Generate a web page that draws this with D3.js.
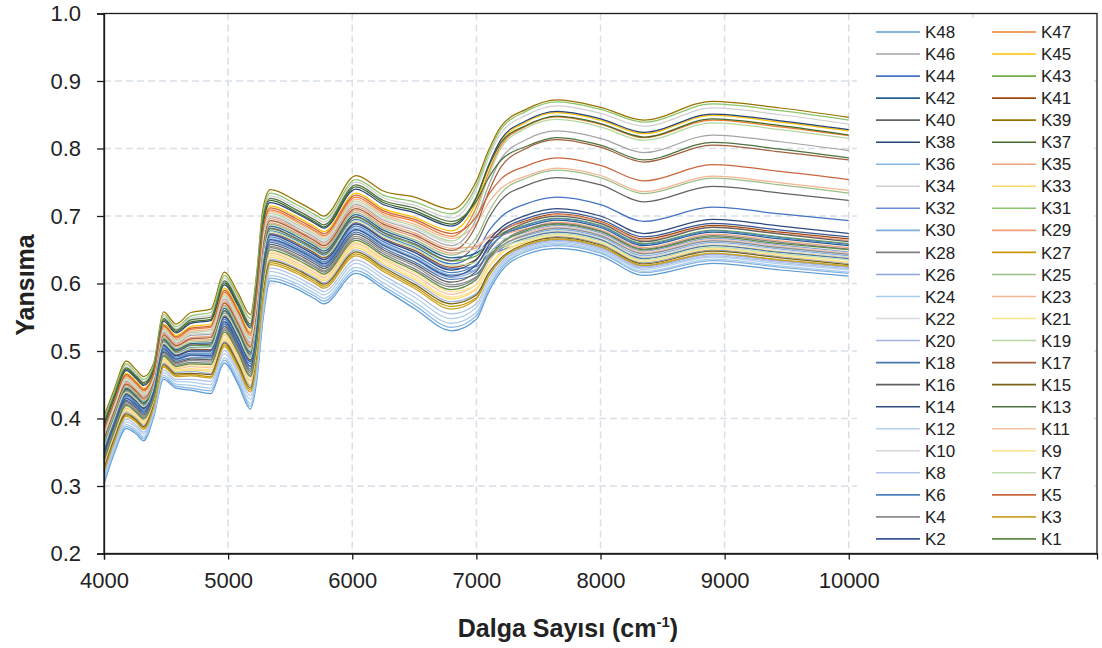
<!DOCTYPE html>
<html>
<head>
<meta charset="utf-8">
<script src="https://cdn.jsdelivr.net/npm/d3@7"></script>
<style>
  body { margin: 0; background: #fff; }
  svg text { font-family: Arial, 'Liberation Sans', sans-serif; fill: #222; }
</style>
</head>
<body>
<svg id="chart" width="1102" height="648"></svg>
<script>
const wavenumbers = [4000, 4080, 4180, 4260, 4320, 4400, 4480, 4580, 4700, 4860, 4970, 5080, 5180, 5230, 5280, 5340,
  5550, 5700, 5770, 6030, 6250, 6500, 6800, 7000, 7100, 7200, 7400, 7650, 8000, 8350, 8900, 9450, 10000];

// reflectance (Yansıma) per sample
const K48 = [.303,.347,.385,.377,.367,.402,.458,.445,.442,.437,.482,.451,.414,.455,.545,.604,.592,.577,.570,.615,.592,.563,.530,.547,.588,.618,.643,.652,.641,.612,.630,.620,.611];
const K47 = [.381,.421,.463,.451,.441,.464,.536,.519,.532,.535,.587,.556,.523,.580,.674,.709,.693,.678,.671,.728,.705,.692,.670,.713,.765,.805,.833,.847,.836,.816,.842,.832,.819];
const K46 = [.373,.414,.455,.444,.434,.458,.528,.512,.523,.525,.577,.546,.512,.567,.661,.699,.683,.668,.661,.717,.694,.679,.656,.696,.746,.785,.813,.826,.815,.794,.820,.810,.797];
const K45 = [.385,.425,.467,.455,.445,.468,.540,.523,.536,.540,.593,.562,.529,.586,.680,.715,.699,.684,.677,.734,.711,.698,.678,.721,.772,.811,.839,.853,.842,.822,.849,.839,.826];
const K44 = [.358,.399,.440,.429,.419,.446,.513,.497,.505,.506,.556,.525,.491,.543,.636,.678,.664,.649,.642,.695,.672,.654,.629,.647,.678,.699,.718,.728,.717,.692,.713,.703,.693];
const K43 = [.360,.401,.442,.431,.421,.448,.515,.499,.508,.508,.559,.528,.494,.546,.639,.681,.666,.651,.644,.698,.675,.657,.633,.641,.662,.674,.687,.697,.686,.659,.679,.669,.659];
const K42 = [.363,.404,.445,.434,.424,.450,.518,.502,.511,.512,.563,.532,.498,.551,.644,.685,.670,.655,.648,.702,.679,.662,.638,.645,.663,.672,.684,.694,.683,.656,.676,.666,.656];
const K41 = [.355,.396,.437,.426,.416,.444,.510,.494,.502,.502,.552,.521,.487,.538,.631,.674,.660,.645,.638,.690,.667,.649,.624,.636,.661,.677,.693,.703,.692,.666,.686,.676,.666];
const K40 = [.361,.402,.443,.432,.422,.448,.516,.500,.509,.510,.560,.529,.495,.548,.641,.682,.667,.652,.645,.699,.676,.659,.634,.660,.697,.724,.745,.757,.746,.721,.744,.734,.723];
const K39 = [.403,.442,.485,.472,.462,.482,.558,.540,.557,.562,.617,.586,.554,.615,.710,.739,.722,.707,.700,.760,.737,.728,.710,.752,.798,.833,.858,.872,.861,.842,.870,.860,.846];
const K38 = [.389,.429,.471,.459,.449,.471,.544,.527,.541,.545,.598,.567,.534,.593,.687,.720,.704,.689,.682,.740,.717,.705,.685,.727,.776,.814,.841,.855,.844,.824,.851,.841,.828];
const K37 = [.391,.431,.473,.461,.451,.472,.546,.529,.543,.547,.601,.570,.537,.596,.690,.723,.706,.691,.684,.743,.720,.708,.688,.728,.774,.809,.834,.848,.837,.817,.844,.834,.820];
const K36 = [.306,.350,.388,.380,.370,.404,.461,.448,.445,.441,.486,.455,.418,.460,.550,.608,.596,.581,.574,.619,.596,.568,.535,.552,.593,.622,.647,.656,.645,.616,.634,.624,.615];
const K35 = [.371,.412,.453,.442,.432,.456,.526,.510,.520,.522,.574,.543,.509,.564,.657,.696,.680,.665,.658,.714,.691,.675,.652,.655,.668,.672,.681,.691,.680,.653,.673,.663,.653];
const K34 = [.396,.435,.478,.465,.455,.476,.551,.533,.549,.553,.608,.577,.544,.604,.698,.730,.713,.698,.691,.750,.727,.716,.697,.739,.787,.823,.849,.863,.852,.833,.860,.850,.836];
const K33 = [.329,.372,.411,.402,.392,.423,.484,.470,.472,.470,.517,.486,.450,.497,.588,.639,.626,.611,.604,.653,.630,.606,.577,.591,.624,.647,.668,.677,.666,.638,.657,.647,.638];
const K32 = [.354,.395,.436,.425,.415,.443,.509,.493,.501,.501,.551,.520,.485,.537,.629,.673,.658,.643,.636,.689,.666,.647,.622,.625,.641,.649,.661,.670,.659,.631,.650,.640,.630];
const K31 = [.399,.438,.481,.468,.458,.479,.554,.536,.552,.557,.612,.581,.548,.609,.703,.734,.717,.702,.695,.754,.731,.721,.703,.745,.793,.829,.855,.869,.858,.839,.866,.856,.842];
const K30 = [.349,.391,.431,.421,.411,.439,.504,.489,.495,.495,.544,.513,.478,.529,.621,.666,.652,.637,.630,.682,.659,.639,.613,.621,.643,.656,.671,.680,.669,.641,.661,.651,.641];
const K29 = [.367,.408,.449,.438,.428,.453,.522,.506,.516,.517,.568,.537,.504,.557,.651,.690,.675,.660,.653,.708,.685,.669,.645,.653,.670,.680,.691,.702,.691,.664,.684,.674,.664];
const K28 = [.339,.381,.421,.411,.401,.431,.494,.479,.483,.482,.531,.500,.464,.513,.604,.653,.639,.624,.617,.667,.644,.622,.595,.609,.640,.661,.680,.689,.678,.651,.671,.661,.651];
const K27 = [.323,.366,.405,.396,.386,.418,.478,.464,.465,.462,.509,.478,.442,.487,.578,.631,.618,.603,.596,.644,.621,.596,.566,.579,.612,.635,.656,.665,.654,.626,.644,.634,.625];
const K26 = [.347,.389,.429,.419,.409,.437,.502,.487,.493,.492,.541,.510,.476,.525,.618,.663,.649,.634,.627,.679,.656,.636,.609,.620,.644,.661,.676,.686,.675,.648,.667,.657,.647];
const K25 = [.365,.406,.447,.436,.426,.452,.520,.504,.513,.515,.566,.535,.501,.554,.647,.688,.673,.658,.651,.705,.682,.665,.642,.668,.706,.734,.756,.768,.757,.733,.756,.746,.734];
const K24 = [.309,.353,.391,.383,.373,.407,.464,.451,.449,.445,.490,.459,.422,.465,.555,.612,.600,.585,.578,.624,.601,.573,.541,.557,.596,.625,.649,.658,.647,.618,.636,.626,.617];
const K23 = [.379,.419,.461,.449,.439,.463,.534,.517,.529,.532,.585,.554,.520,.577,.670,.707,.691,.676,.669,.725,.702,.688,.667,.689,.720,.741,.759,.771,.760,.736,.759,.749,.738];
const K22 = [.369,.410,.451,.440,.430,.455,.524,.508,.518,.520,.571,.540,.506,.561,.654,.693,.678,.663,.656,.711,.688,.672,.649,.649,.658,.661,.669,.678,.667,.639,.659,.649,.639];
const K21 = [.331,.374,.413,.404,.394,.424,.486,.472,.474,.472,.520,.489,.453,.500,.591,.642,.628,.613,.606,.656,.633,.609,.580,.593,.623,.644,.663,.672,.661,.633,.652,.642,.632];
const K20 = [.327,.370,.409,.400,.390,.421,.482,.468,.470,.467,.514,.483,.448,.493,.585,.636,.623,.608,.601,.650,.627,.603,.573,.585,.615,.636,.655,.664,.653,.625,.643,.633,.624];
const K19 = [.377,.417,.459,.447,.437,.461,.532,.515,.527,.530,.582,.551,.518,.573,.667,.704,.688,.673,.666,.722,.699,.685,.663,.706,.760,.801,.830,.843,.832,.812,.838,.828,.815];
const K18 = [.345,.387,.427,.417,.407,.436,.500,.485,.490,.490,.539,.508,.473,.522,.614,.661,.647,.632,.625,.676,.653,.632,.606,.614,.637,.652,.667,.676,.665,.637,.656,.646,.637];
const K17 = [.369,.410,.451,.440,.430,.455,.524,.508,.518,.520,.571,.540,.506,.561,.654,.693,.678,.663,.656,.711,.688,.672,.649,.687,.736,.773,.800,.813,.802,.780,.805,.795,.783];
const K16 = [.343,.385,.425,.415,.405,.434,.498,.483,.488,.487,.536,.505,.470,.519,.611,.658,.644,.629,.622,.673,.650,.629,.602,.618,.649,.671,.690,.700,.689,.662,.683,.673,.662];
const K15 = [.325,.368,.407,.398,.388,.420,.480,.466,.467,.465,.512,.481,.445,.490,.581,.634,.621,.606,.599,.647,.624,.599,.570,.583,.616,.638,.659,.668,.657,.629,.648,.638,.628];
const K14 = [.353,.395,.435,.425,.415,.442,.508,.493,.500,.500,.550,.519,.484,.535,.628,.672,.657,.642,.635,.688,.665,.646,.620,.635,.664,.683,.701,.711,.700,.674,.695,.685,.674];
const K13 = [.393,.433,.475,.463,.453,.474,.548,.531,.546,.550,.604,.573,.540,.599,.694,.726,.709,.694,.687,.746,.723,.712,.692,.722,.757,.783,.803,.816,.805,.783,.809,.799,.786];
const K12 = [.313,.357,.395,.387,.377,.410,.468,.455,.454,.450,.496,.465,.428,.471,.562,.618,.605,.590,.583,.630,.607,.580,.548,.564,.601,.628,.651,.660,.649,.621,.639,.629,.620];
const K11 = [.333,.376,.415,.406,.396,.426,.488,.474,.477,.475,.523,.492,.456,.503,.595,.645,.631,.616,.609,.659,.636,.613,.584,.599,.632,.654,.674,.684,.673,.646,.665,.655,.645];
const K10 = [.375,.415,.457,.445,.435,.460,.530,.513,.525,.527,.579,.548,.515,.570,.664,.701,.686,.671,.664,.719,.696,.682,.660,.659,.666,.667,.673,.683,.672,.644,.664,.654,.644];
const K9  = [.335,.377,.417,.407,.397,.428,.490,.475,.479,.477,.525,.494,.459,.506,.598,.647,.634,.619,.612,.661,.638,.616,.588,.598,.626,.644,.661,.671,.660,.632,.651,.641,.631];
const K8  = [.317,.360,.399,.390,.380,.413,.472,.458,.458,.455,.501,.470,.434,.477,.568,.623,.610,.595,.588,.635,.612,.586,.555,.570,.606,.631,.653,.662,.651,.623,.641,.631,.622];
const K7  = [.357,.398,.439,.428,.418,.445,.512,.496,.504,.505,.555,.524,.490,.541,.634,.677,.662,.647,.640,.693,.670,.652,.627,.631,.646,.654,.665,.674,.663,.635,.654,.644,.635];
const K6  = [.351,.393,.433,.423,.413,.440,.506,.491,.497,.497,.547,.516,.481,.532,.624,.669,.654,.639,.632,.685,.662,.642,.616,.628,.653,.670,.686,.696,.685,.658,.678,.668,.658];
const K5  = [.383,.423,.465,.453,.443,.466,.538,.521,.534,.537,.590,.559,.526,.583,.677,.712,.696,.681,.674,.731,.708,.695,.674,.699,.732,.755,.774,.786,.775,.752,.776,.766,.754];
const K4  = [.341,.383,.423,.413,.403,.432,.496,.481,.486,.485,.533,.502,.467,.516,.608,.655,.641,.626,.619,.670,.647,.626,.598,.610,.637,.655,.672,.682,.671,.644,.663,.653,.643];
const K3  = [.321,.364,.403,.394,.384,.416,.476,.462,.463,.460,.506,.475,.439,.484,.575,.628,.615,.600,.593,.641,.618,.593,.562,.577,.611,.635,.657,.666,.655,.627,.645,.635,.626];
const K2  = [.348,.390,.430,.420,.410,.438,.503,.488,.494,.493,.543,.512,.477,.527,.619,.665,.651,.636,.629,.680,.657,.637,.611,.627,.657,.678,.696,.706,.695,.669,.689,.679,.669];
const K1  = [.337,.379,.419,.409,.399,.429,.492,.477,.481,.480,.528,.497,.462,.509,.601,.650,.636,.621,.614,.664,.641,.619,.591,.606,.637,.659,.678,.688,.677,.650,.669,.659,.650];

// series in plotting order (first drawn at the bottom)
const seriesNames = ['K48','K47','K46','K45','K44','K43','K42','K41','K40','K39','K38','K37',
  'K36','K35','K34','K33','K32','K31','K30','K29','K28','K27','K26','K25',
  'K24','K23','K22','K21','K20','K19','K18','K17','K16','K15','K14','K13',
  'K12','K11','K10','K9','K8','K7','K6','K5','K4','K3','K2','K1'];
const seriesValues = [K48,K47,K46,K45,K44,K43,K42,K41,K40,K39,K38,K37,
  K36,K35,K34,K33,K32,K31,K30,K29,K28,K27,K26,K25,
  K24,K23,K22,K21,K20,K19,K18,K17,K16,K15,K14,K13,
  K12,K11,K10,K9,K8,K7,K6,K5,K4,K3,K2,K1];
const seriesColors = ['#5B9BD5','#ED7D31','#A5A5A5','#FFC000','#4472C4','#70AD47',
  '#255E91','#9E480E','#636363','#997300','#264478','#43682B',
  '#86B4E2','#F3A47A','#CFCFCF','#FFD966','#6C8ED6','#8CC46C',
  '#7EAEE0','#EFA07A','#7F7F7F','#C79A00','#8AA6D8','#9BBF86',
  '#A8CBEB','#F6B592','#DADADA','#FFE38C','#9FB4E4','#B4D7A0',
  '#4A78AE','#A0603A','#606060','#7A6415','#2E4A80','#4F7140',
  '#B0CFEC','#F7C1A2','#D5D5D5','#FFE48F','#B0C2EA','#BFDDAE',
  '#4F82BE','#C9663C','#8C8C8C','#C9A227','#3A5896','#5F8A44'];

const xTicks = [4000, 5000, 6000, 7000, 8000, 9000, 10000];
const xGrid = [5000, 6000, 7000, 8000, 9000, 10000, 11000];
const yTicks = [0.2, 0.3, 0.4, 0.5, 0.6, 0.7, 0.8, 0.9, 1.0];

seriesValues.forEach((s, i) => {
  if (s.length !== wavenumbers.length) throw new Error(seriesNames[i] + ' has ' + s.length + ' values');
});

const svg = d3.select('#chart');
const plot = { left: 104, right: 1097, top: 13.5, bottom: 553.5 };

const x = d3.scaleLinear().domain([4000, 12000]).range([plot.left, plot.right]);
const y = d3.scaleLinear().domain([0.2, 1.0]).range([plot.bottom, plot.top]);

// grid
const grid = svg.append('g')
  .attr('stroke', '#D9DEE7')
  .attr('stroke-width', 1.5)
  .attr('stroke-dasharray', '7,4');
grid.selectAll('.hgrid')
  .data(yTicks.slice(1, -1))
  .join('line')
  .attr('x1', plot.left).attr('x2', plot.right)
  .attr('y1', (d) => y(d)).attr('y2', (d) => y(d));
grid.selectAll('.vgrid')
  .data(xGrid)
  .join('line')
  .attr('x1', (d) => x(d)).attr('x2', (d) => x(d))
  .attr('y1', plot.top).attr('y2', plot.bottom);

// spectra
const line = d3.line()
  .x((d, i) => x(wavenumbers[i]))
  .y((d) => y(d))
  .curve(d3.curveMonotoneX);

svg.append('g')
  .attr('fill', 'none')
  .attr('stroke-width', 1.25)
  .selectAll('path')
  .data(seriesValues)
  .join('path')
  .attr('stroke', (d, i) => seriesColors[i])
  .attr('d', line);

// legend, sitting inside the plot area
const legend = svg.append('g');
legend.append('rect')
  .attr('x', 857).attr('y', 18)
  .attr('width', 233).attr('height', 532)
  .attr('fill', '#fff');

const rowStep = 22.04;
const entries = legend.selectAll('.entry')
  .data(seriesNames)
  .join('g')
  .attr('class', 'entry')
  .attr('transform', (d, i) => {
    const col = i % 2;
    const row = Math.floor(i / 2);
    return `translate(${col ? 992 : 876},${32 + row * rowStep})`;
  });
entries.append('line')
  .attr('x1', 0).attr('x2', 44)
  .attr('stroke', (d, i) => seriesColors[i])
  .attr('stroke-width', 1.6);
entries.append('text')
  .attr('x', 49)
  .attr('dy', '0.36em')
  .attr('font-size', 17)
  .attr('fill', '#333')
  .text((d) => d);

// frame
svg.append('rect')
  .attr('x', plot.left).attr('y', plot.top)
  .attr('width', plot.right - plot.left)
  .attr('height', plot.bottom - plot.top)
  .attr('fill', 'none')
  .attr('stroke', '#1a1a1a')
  .attr('stroke-width', 1.3);

// axes
const yAxis = svg.append('g')
  .attr('transform', `translate(${plot.left},0)`)
  .call(d3.axisLeft(y).tickValues(yTicks).tickFormat(d3.format('.1f')).tickSize(7).tickPadding(16));
const xAxis = svg.append('g')
  .attr('transform', `translate(0,${plot.bottom})`)
  .call(d3.axisBottom(x).tickValues(xTicks).tickFormat(d3.format('d')).tickSize(6).tickPadding(13));

[xAxis, yAxis].forEach((g) => {
  g.select('.domain').attr('stroke', '#1a1a1a').attr('stroke-width', 1.3);
  g.selectAll('.tick line').attr('stroke', '#1a1a1a').attr('stroke-width', 1.3);
  g.selectAll('.tick text').attr('font-size', 22).attr('fill', '#222');
});

// axis titles
svg.append('text')
  .attr('transform', 'translate(34,285) rotate(-90)')
  .attr('text-anchor', 'middle')
  .attr('font-size', 25)
  .attr('font-weight', 'bold')
  .text('Yansıma');

const xTitle = svg.append('text')
  .attr('x', 568)
  .attr('y', 637)
  .attr('text-anchor', 'middle')
  .attr('font-size', 25)
  .attr('font-weight', 'bold');
xTitle.append('tspan').text('Dalga Sayısı (cm');
xTitle.append('tspan').attr('font-size', 15).attr('dy', -10).text('-1');
xTitle.append('tspan').attr('dy', 10).text(')');
</script>
</body>
</html>
